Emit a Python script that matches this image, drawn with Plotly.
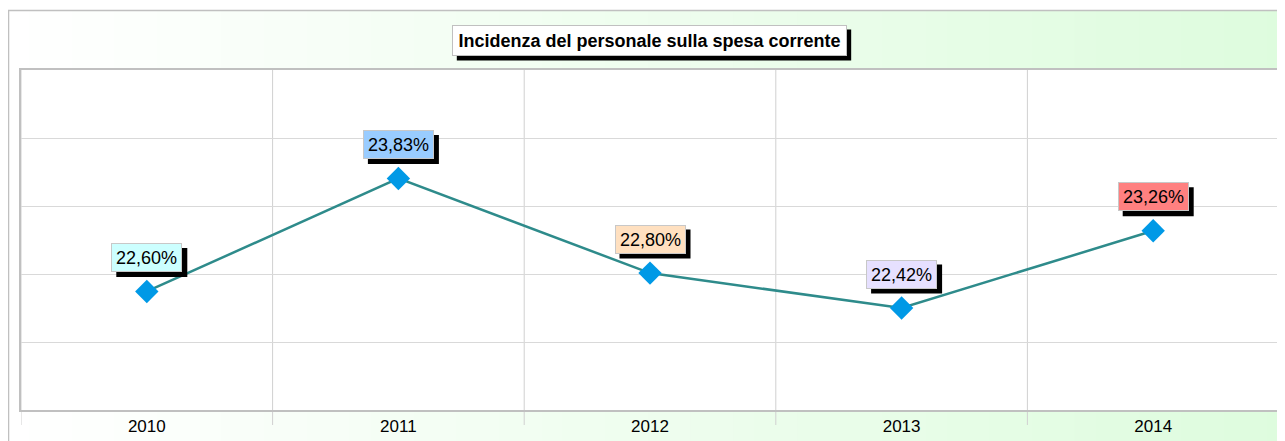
import plotly.graph_objects as go

years = ["2010", "2011", "2012", "2013", "2014"]
values = [22.60, 23.83, 22.80, 22.42, 23.26]
labels = ["22,60%", "23,83%", "22,80%", "22,42%", "23,26%"]
label_colors = ["#CCFFFF", "#99CCFF", "#FFE0C0", "#E6E0FF", "#FF8080"]
title_text = "Incidenza del personale sulla spesa corrente"

FONT = "Arial, Liberation Sans, sans-serif"
OFF = 8  # page body margin
W, H = 1285 - OFF, 441 - OFF
L, R, T, B = 21 - OFF, 4, 70 - OFF, 31
pw = W - L - R
ph = H - T - B

def pxx(px):  # page px -> paper x
    return (px - OFF - L) / pw

def pxy(py):  # page px -> paper y
    return (H - B - (py - OFF)) / ph

fig = go.Figure()
fig.add_trace(go.Scatter(
    x=list(range(len(years))), y=values, mode="lines+markers",
    line=dict(color="#2E8B8B", width=2.5),
    marker=dict(symbol="diamond", size=18, color="#0099E6"),
    hoverinfo="skip", showlegend=False,
))

shapes = []
n = 60
x_start, x_end = 8, 1290
for i in range(n):
    t = i / (n - 1)
    g = lambda a, b: int(round(a + (b - a) * t))
    col = f"rgb({g(255,222)},{g(255,252)},{g(255,222)})"
    xa = x_start + (x_end - x_start) * i / n
    xb = x_start + (x_end - x_start) * (i + 1) / n + 1
    shapes.append(dict(type="rect", xref="paper", yref="paper",
                       x0=pxx(xa), x1=pxx(xb), y0=pxy(450), y1=pxy(10),
                       fillcolor=col, line=dict(width=0), layer="below"))
shapes.append(dict(type="rect", xref="paper", yref="paper",
                   x0=pxx(8.5), x1=pxx(1300), y0=pxy(460), y1=pxy(10.5),
                   fillcolor="rgba(0,0,0,0)", line=dict(color="#C0C0C0", width=1.5), layer="below"))
shapes.append(dict(type="rect", xref="paper", yref="paper",
                   x0=0, x1=1, y0=0, y1=1,
                   fillcolor="white", line=dict(width=0), layer="below"))

# title box geometry (page px)
tcx, tcy, tw, th = 650, 40, 395, 31
SH = 5
shapes.append(dict(type="rect", xref="paper", yref="paper",
                   x0=pxx(tcx - tw / 2 + SH), x1=pxx(tcx + tw / 2 + SH),
                   y0=pxy(tcy + th / 2 + SH), y1=pxy(tcy - th / 2 + SH),
                   fillcolor="black", line=dict(width=0), layer="above"))

annotations = [dict(text="<b>" + title_text + "</b>", x=pxx(tcx), y=pxy(tcy),
                    xref="paper", yref="paper", showarrow=False,
                    xanchor="center", yanchor="middle",
                    width=tw - 2, height=th - 2, align="center", valign="middle",
                    font=dict(family=FONT, size=18, color="black"),
                    bgcolor="white", bordercolor="#C0C0C0", borderwidth=1, borderpad=0)]

LW, LH, LSHIFT = 71, 29, 34
for i, (v, lab, c) in enumerate(zip(values, labels, label_colors)):
    shapes.append(dict(type="rect", xref="x", yref="y",
                       xsizemode="pixel", ysizemode="pixel", xanchor=i, yanchor=v,
                       x0=-LW / 2 + SH, x1=LW / 2 + SH,
                       y0=LSHIFT - LH / 2 - SH, y1=LSHIFT + LH / 2 - SH,
                       fillcolor="black", line=dict(width=0), layer="above"))
    annotations.append(dict(text=lab, x=i, y=v, xref="x", yref="y", showarrow=False,
                            xanchor="center", yanchor="middle",
                            yshift=LSHIFT, width=LW - 2, height=LH - 2,
                            align="center", valign="middle",
                            font=dict(family=FONT, size=18, color="black"),
                            bgcolor=c, bordercolor="#C8C8C8", borderwidth=1, borderpad=0))

fig.update_layout(
    width=W, height=H,
    margin=dict(l=L, r=R, t=T, b=B),
    paper_bgcolor="white", plot_bgcolor="white",
    shapes=shapes, annotations=annotations,
    font=dict(family=FONT, size=14, color="black"),
    xaxis=dict(tickmode="array", tickvals=list(range(len(years))), ticktext=years,
               ticks="", showgrid=False, zeroline=False,
               showline=True, linecolor="#C0C0C0", linewidth=1.5, mirror=True,
               tickfont=dict(family=FONT, size=17, color="black"),
               range=[-0.5, len(years) - 0.5]),
    yaxis=dict(range=[21.31, 25.01], tick0=21.31, dtick=0.74, showticklabels=False,
               ticks="", showgrid=True, gridcolor="#D9D9D9", zeroline=False,
               showline=True, linecolor="#C0C0C0", linewidth=1.5, mirror=True),
)

for k in range(len(years) + 1):
    fig.add_shape(type="line", xref="x", yref="paper",
                  x0=k - 0.5, x1=k - 0.5, y0=pxy(425), y1=1,
                  line=dict(color="#D0D0D0", width=1), layer="below")

fig.write_html("out.html")
